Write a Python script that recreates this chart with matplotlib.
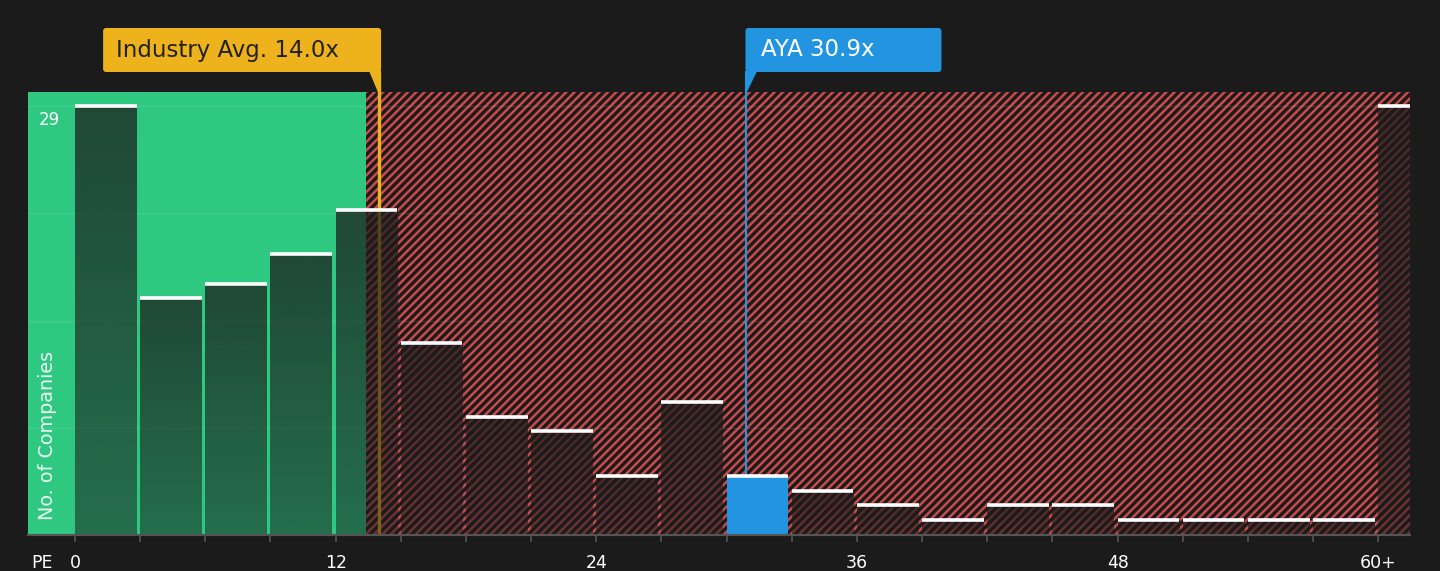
import numpy as np
import matplotlib.pyplot as plt
from matplotlib.patches import Rectangle, FancyBboxPatch, Polygon
from matplotlib.transforms import blended_transform_factory

# PE histogram data (bins of width 3, last bar is 60+)
bin_width = 3
counts = [29, 16, 17, 19, 22, 13, 8, 7, 4, 9, 4, 3, 2, 1, 2, 2, 1, 1, 1, 1]
over_60 = 29
tick_values = [0, 12, 24, 36, 48, 60]
tick_labels = ["0", "12", "24", "36", "48", "60+"]
y_max = 29

industry_avg = 14.0
company_pe = 30.9
company_name = "AYA"
fair_upper = 13.4  # end of green zone

BG = "#1b1b1b"
GREEN = "#2ec880"
RED = "#c94b4b"
ORANGE = "#eeb21c"
BLUE = "#2394df"

plt.rcParams["hatch.linewidth"] = 1.8

fig = plt.figure(figsize=(14.4, 5.71), dpi=100, facecolor=BG)
ax = fig.add_axes([28 / 1440, 36 / 571, 1382 / 1440, 443 / 571])
ax.set_facecolor(BG)
ax.set_xlim(-2.164, 61.46)
ax.set_ylim(0, y_max * 443 / 429)
ytop = ax.get_ylim()[1]
xmin, xmax = ax.get_xlim()

# green (undervalued) and red hatched (overvalued) zones
ax.add_patch(Rectangle((xmin, 0), fair_upper - xmin, ytop, facecolor=GREEN,
                       edgecolor="none", zorder=1))
ax.add_patch(Rectangle((fair_upper, 0), xmax - fair_upper, ytop, facecolor="none",
                       edgecolor=RED, hatch="////", linewidth=0, zorder=1))

# grid
for k in range(1, 5):
    ax.axhline(y_max * k / 4, color="white", alpha=0.1, lw=1, zorder=2)

# industry average line (under the bars)
inv = ax.transData.inverted()
y_box_bottom = inv.transform((0, 571 - 72))[1]
ax.plot([industry_avg, industry_avg], [0, y_box_bottom], color=ORANGE, lw=2.4,
        clip_on=False, zorder=3, solid_capstyle="butt")

# bars
heights = counts + [over_60]
lefts = [i * bin_width for i in range(len(heights))]
bar_w = bin_width * 0.945
dark = np.array([27, 27, 27]) / 255
for left, h in zip(lefts, heights):
    if h <= 0:
        continue
    if left <= company_pe < left + bin_width:
        ax.add_patch(Rectangle((left, 0), bar_w, h, facecolor=BLUE,
                               edgecolor="none", zorder=4))
        ax.plot([company_pe, company_pe], [h, y_box_bottom], color=BLUE, lw=1.5,
                clip_on=False, zorder=3)
    else:
        grad = np.zeros((100, 1, 4))
        grad[:, 0, :3] = dark
        grad[:, 0, 3] = np.linspace(0.74, 0.52, 100)
        ax.imshow(grad, extent=(left, left + bar_w, 0, h), aspect="auto",
                  interpolation="bilinear", zorder=4)
    ax.plot([left, left + bar_w], [h, h], color="white", lw=2.6,
            solid_capstyle="butt", zorder=5)

ax.set_xlim(xmin, xmax)
ax.set_ylim(0, ytop)

# axes styling
for s in ["top", "right", "left"]:
    ax.spines[s].set_visible(False)
ax.spines["bottom"].set_color("#555555")
ax.spines["bottom"].set_linewidth(1.5)
ax.spines["bottom"].set_zorder(6)
ax.set_yticks([])
ax.set_xticks(tick_values)
ax.set_xticklabels(tick_labels)
ax.set_xticks(list(range(0, 61, bin_width)), minor=True)
ax.tick_params(axis="x", which="both", length=5, width=1.2, color="#555555",
               labelcolor="white", labelsize=12.5, pad=9)
trans = blended_transform_factory(ax.transData, ax.transAxes)
ax.text(-1.5, -0.063, "PE", transform=trans, color="white", fontsize=12.5,
        ha="center", va="center")
ax.annotate(str(y_max), xy=(xmin, y_max), xytext=(21, -14), textcoords="offset pixels",
            color="white", fontsize=12, ha="center", va="center", zorder=7)
ax.text(20 / 1382, 15 / 443, "No. of Companies", transform=ax.transAxes, rotation=90,
        color="white", alpha=0.9, fontsize=13.8, ha="center", va="bottom", zorder=7)

# callouts in figure pixel coordinates
ov = fig.add_axes([0, 0, 1, 1])
ov.set_xlim(0, 1440)
ov.set_ylim(571, 0)
ov.axis("off")
ov.patch.set_alpha(0)

def to_px(x):
    return ax.transData.transform((x, 0))[0]

xi = to_px(industry_avg)
box_w = 278
ov.add_patch(FancyBboxPatch((xi + 2 - box_w, 28), box_w, 44,
                            boxstyle="round,pad=0,rounding_size=3",
                            facecolor=ORANGE, edgecolor="none"))
ov.add_patch(Polygon([(xi - 10, 71), (xi + 2, 71), (xi + 1.2, 92), (xi - 1.2, 92)],
                     closed=True, facecolor=ORANGE, edgecolor="none"))
ov.text(xi + 2 - box_w + 13, 50, "Industry Avg. %.1fx" % industry_avg, color="#222222",
        fontsize=16.5, ha="left", va="center")

xa = to_px(company_pe)
box_w2 = 196
ov.add_patch(FancyBboxPatch((xa - 0.75, 28), box_w2, 44,
                            boxstyle="round,pad=0,rounding_size=3",
                            facecolor=BLUE, edgecolor="none"))
ov.add_patch(Polygon([(xa - 0.75, 71), (xa + 11, 71), (xa + 0.75, 92), (xa - 0.75, 92)],
                     closed=True, facecolor=BLUE, edgecolor="none"))
ov.text(xa + 15, 50, "%s %.1fx" % (company_name, company_pe), color="white",
        fontsize=16.5, ha="left", va="center")

fig.savefig("out.png", dpi=100, facecolor=BG)
